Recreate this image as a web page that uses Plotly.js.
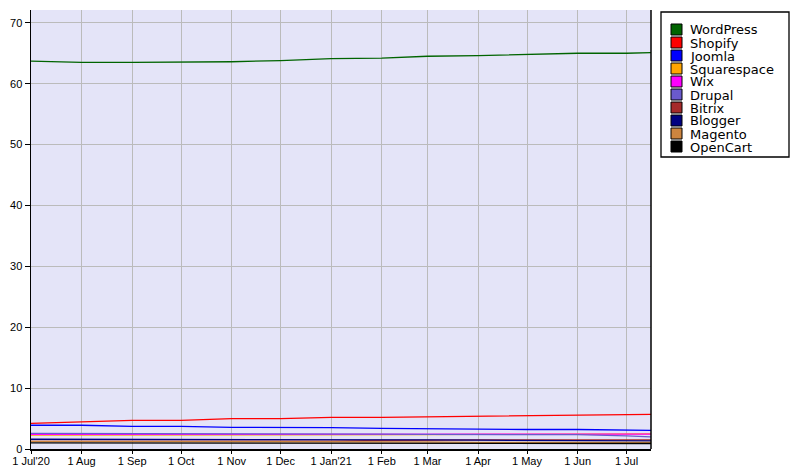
<!DOCTYPE html>
<html>
<head>
<meta charset="utf-8">
<script src="https://cdn.plot.ly/plotly-3.0.1.min.js"></script>
<style>html,body{margin:0;padding:0;background:#fff;}#chart{width:799px;height:473px;}</style>
</head>
<body>
<div id="chart"></div>
<script>
// Dates (monthly, plus last observation)
const dates = ['2020-07-01','2020-08-01','2020-09-01','2020-10-01','2020-11-01','2020-12-01','2021-01-01','2021-02-01','2021-03-01','2021-04-01','2021-05-01','2021-06-01','2021-07-01','2021-07-16'];
const tickVals = ['2020-07-01','2020-08-01','2020-09-01','2020-10-01','2020-11-01','2020-12-01','2021-01-01','2021-02-01','2021-03-01','2021-04-01','2021-05-01','2021-06-01','2021-07-01'];
const tickText = ["1 Jul'20",'1 Aug','1 Sep','1 Oct','1 Nov','1 Dec',"1 Jan'21",'1 Feb','1 Mar','1 Apr','1 May','1 Jun','1 Jul'];

const names = ['WordPress','Shopify','Joomla','Squarespace','Wix','Drupal','Bitrix','Blogger','Magento','OpenCart'];
const colors = ['#006400','#FF0000','#0000FF','#FFA500','#FF00FF','#6A5ACD','#A52A2A','#000080','#CD853F','#000000'];

const wordpress   = [63.7,63.5,63.5,63.5,63.6,63.8,64.1,64.2,64.5,64.6,64.8,65.0,65.0,65.1];
const shopify     = [4.2,4.4,4.7,4.7,5.0,5.0,5.2,5.2,5.3,5.4,5.4,5.6,5.7,5.7];
const joomla      = [3.9,3.9,3.7,3.7,3.55,3.55,3.5,3.4,3.3,3.2,3.2,3.2,3.05,3.05];
const squarespace = [2.3,2.3,2.3,2.3,2.25,2.25,2.25,2.3,2.35,2.4,2.4,2.5,2.5,2.5];
const wix         = [2.4,2.4,2.45,2.45,2.5,2.45,2.4,2.4,2.4,2.45,2.45,2.45,2.45,2.45];
const drupal      = [2.55,2.55,2.55,2.55,2.5,2.5,2.45,2.45,2.4,2.4,2.4,2.35,2.15,2.0];
const bitrix      = [1.25,1.25,1.25,1.25,1.25,1.3,1.3,1.4,1.5,1.5,1.5,1.5,1.5,1.5];
const blogger     = [1.6,1.6,1.6,1.6,1.6,1.6,1.6,1.55,1.5,1.45,1.4,1.4,1.35,1.35];
const magento     = [1.25,1.25,1.25,1.2,1.2,1.15,1.15,1.15,1.15,1.1,1.1,1.1,1.1,1.1];
const opencart    = [1.0,1.0,1.0,1.0,1.0,0.95,0.95,0.95,0.95,0.9,0.9,0.9,0.9,0.9];

const series = [wordpress,shopify,joomla,squarespace,wix,drupal,bitrix,blogger,magento,opencart];

const traces = series.map((s,i)=>({
  type:'scatter', mode:'lines', x:dates, y:s, name:names[i],
  line:{color:colors[i], width:1.3}, showlegend:false, hoverinfo:'x+y+name'
}));

// plot area pixel geometry (for the custom legend)
const L=31, R=651, T=10, B=449;
const px = v => (v-L)/(R-L);
const py = v => (B-v)/(B-T);

const shapes = [
  {type:'line', xref:'paper', yref:'paper', x0:1, x1:1, y0:0, y1:1, line:{color:'#000', width:1.5}},
  {type:'rect', xref:'paper', yref:'paper', x0:px(661), x1:px(789), y0:py(12), y1:py(157), line:{color:'#000', width:1.3}, fillcolor:'#fff'}
];
const annotations = [];
names.forEach((n,i)=>{
  const cy = 29.5 + 13*i;
  shapes.push({type:'rect', xref:'paper', yref:'paper', x0:px(671), x1:px(682), y0:py(cy-5.5), y1:py(cy+5.5), fillcolor:colors[i], line:{color:'#000', width:1}});
  annotations.push({xref:'paper', yref:'paper', x:px(689), y:py(cy+0.5), xanchor:'left', yanchor:'middle', showarrow:false, text:n,
    borderpad:0, font:{family:'DejaVu Sans, Verdana, sans-serif', size:13, color:'#000'}});
});

const layout = {
  width:799, height:473,
  margin:{l:L, r:799-R, t:T, b:473-B, pad:0},
  paper_bgcolor:'#ffffff', plot_bgcolor:'#E4E4F8',
  showlegend:false,
  xaxis:{type:'date', range:['2020-07-01','2021-07-16'], tickmode:'array', tickvals:tickVals, ticktext:tickText,
    showgrid:true, gridcolor:'#BBBBBB', gridwidth:1, showline:true, linecolor:'#000', linewidth:1.5,
    ticks:'outside', ticklen:3, tickcolor:'#000', tickangle:0, ticklabelstandoff:-2,
    tickfont:{family:'Liberation Sans, Arial, sans-serif', size:11, color:'#000'}, zeroline:false, fixedrange:true},
  yaxis:{range:[0,72.1], tickmode:'linear', tick0:0, dtick:10, showgrid:true, gridcolor:'#BBBBBB', gridwidth:1,
    showline:true, linecolor:'#000', linewidth:1.5, ticks:'outside', ticklen:5, tickcolor:'#000',
    tickfont:{family:'Liberation Sans, Arial, sans-serif', size:11, color:'#000'}, zeroline:false, fixedrange:true},
  shapes:shapes, annotations:annotations
};

Plotly.newPlot('chart', traces, layout, {displayModeBar:false, staticPlot:true});
</script>
</body>
</html>
